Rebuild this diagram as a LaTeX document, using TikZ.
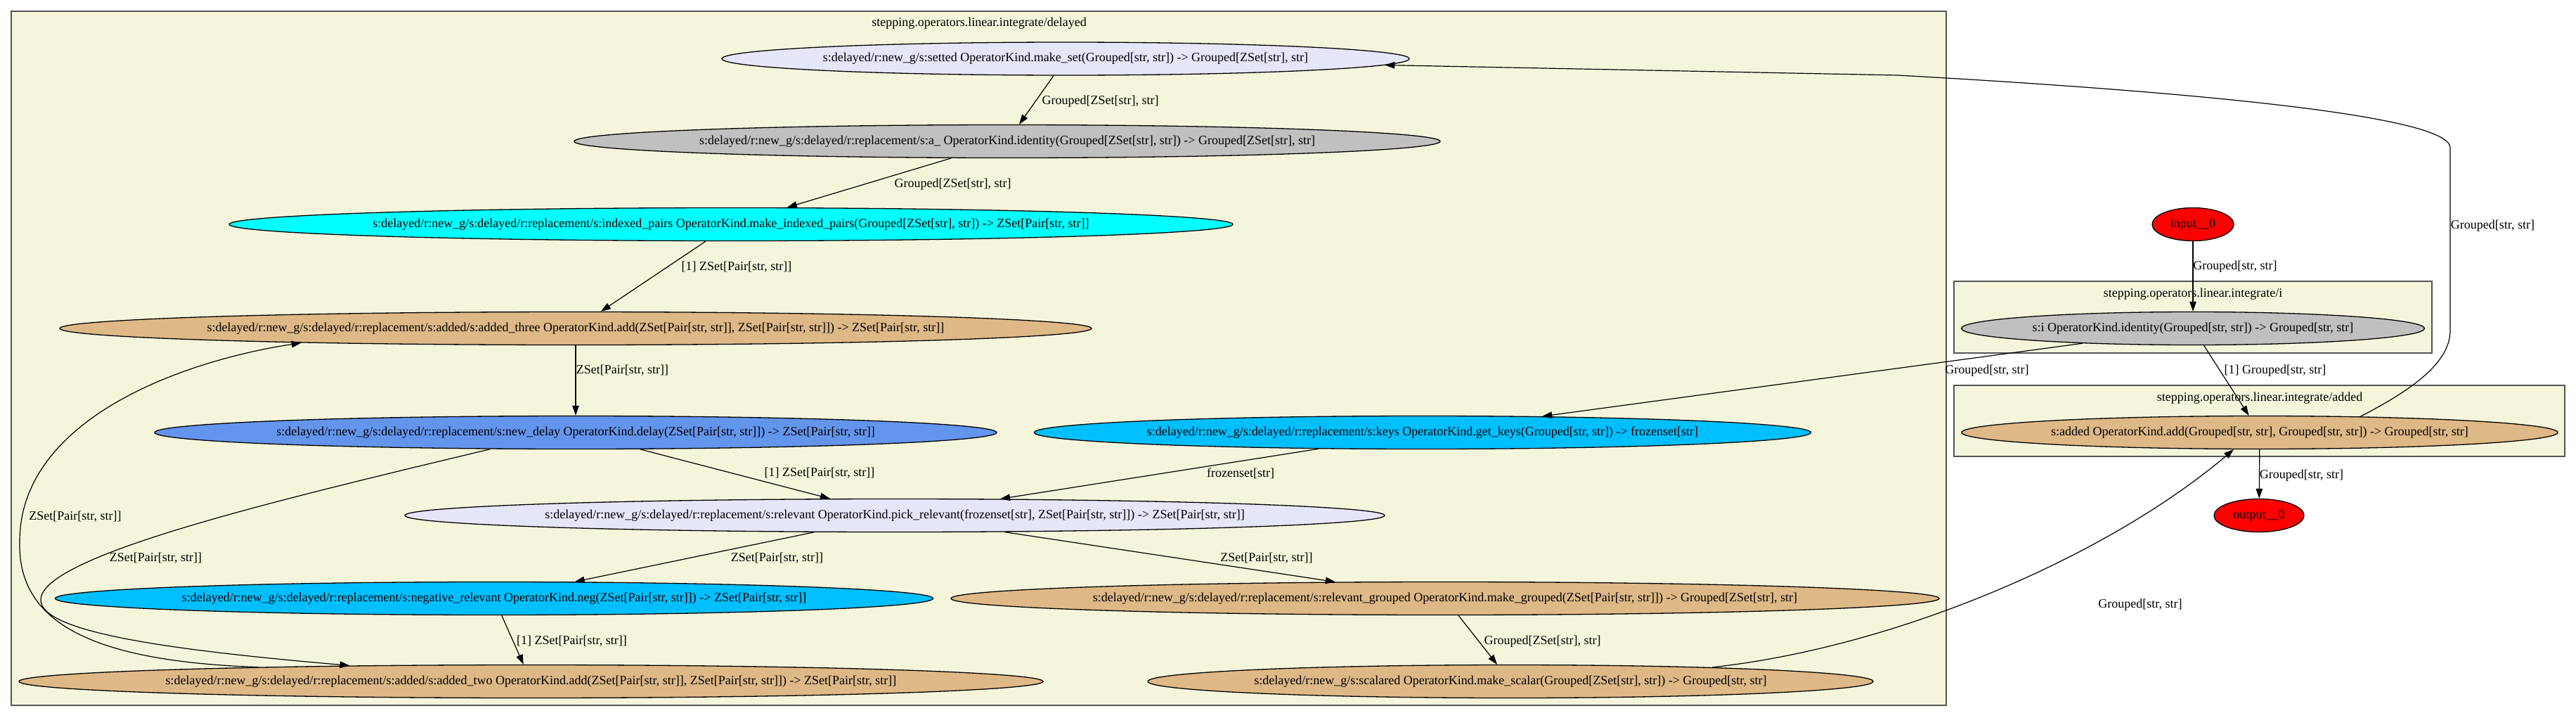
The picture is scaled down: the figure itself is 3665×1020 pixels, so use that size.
\documentclass[tikz,border=0pt]{standalone}
\usepackage{fontspec}
\setmainfont{Liberation Serif}
\usetikzlibrary{shapes.geometric,arrows.meta}
\definecolor{beigec}{HTML}{F5F5DC}
\definecolor{lav}{HTML}{E6E6FA}
\definecolor{grayc}{HTML}{C0C0C0}
\definecolor{burly}{HTML}{DEB887}
\definecolor{cfblue}{HTML}{6495ED}
\definecolor{dsblue}{HTML}{00BFFF}
\definecolor{cyanc}{HTML}{00FFFF}
\definecolor{redc}{HTML}{FF0000}
\definecolor{framec}{HTML}{555555}
\begin{document}
\begin{tikzpicture}[x=1pt,y=-1pt,
  every node/.style={font=\fontsize{18}{21}\selectfont},
  op/.style={ellipse, draw=black, line width=1.3pt, inner sep=0pt, minimum height=47pt},
  cl/.style={draw=framec, fill=beigec, line width=2pt},
  lbl/.style={inner sep=0pt},
  conn/.style={draw=black, line width=1.2pt, -{Triangle[length=14pt,width=9.5pt]}},
]
\fill[white] (0,0) rectangle (3665,1020);
\useasboundingbox (0,0) rectangle (3665,1020);

% clusters
\draw[cl] (16,16) rectangle (2769,1003);
\draw[cl] (2780,400) rectangle (3460,502);
\draw[cl] (2780,548) rectangle (3649,649);
\node[lbl] (t1) at (1393,33) {stepping.operators.linear.integrate/delayed};
\node[lbl] (t2) at (3120,418) {stepping.operators.linear.integrate/i};
\node[lbl] (t3) at (3215,566) {stepping.operators.linear.integrate/added};

% nodes
\node[op, fill=lav, minimum width=978pt] (setted) at (1516,83.5) {\makebox[0pt]{s:delayed/r:new\_g/s:setted OperatorKind.make\_set(Grouped[str, str]) -> Grouped[ZSet[str], str]}};
\node[op, fill=grayc, minimum width=1232pt] (identa) at (1433,201) {\makebox[0pt]{s:delayed/r:new\_g/s:delayed/r:replacement/s:a\_ OperatorKind.identity(Grouped[ZSet[str], str]) -> Grouped[ZSet[str], str]}};
\node[op, fill=cyanc, minimum width=1428pt] (indexed) at (1040,319) {\makebox[0pt]{s:delayed/r:new\_g/s:delayed/r:replacement/s:indexed\_pairs OperatorKind.make\_indexed\_pairs(Grouped[ZSet[str], str]) -> ZSet[Pair[str, str]]}};
\node[op, fill=burly, minimum width=1468pt] (added3) at (819,467) {\makebox[0pt]{s:delayed/r:new\_g/s:delayed/r:replacement/s:added/s:added\_three OperatorKind.add(ZSet[Pair[str, str]], ZSet[Pair[str, str]]) -> ZSet[Pair[str, str]]}};
\node[op, fill=cfblue, minimum width=1198pt] (newdelay) at (819,615) {\makebox[0pt]{s:delayed/r:new\_g/s:delayed/r:replacement/s:new\_delay OperatorKind.delay(ZSet[Pair[str, str]]) -> ZSet[Pair[str, str]]}};
\node[op, fill=dsblue, minimum width=1105pt] (keys) at (2024,615) {\makebox[0pt]{s:delayed/r:new\_g/s:delayed/r:replacement/s:keys OperatorKind.get\_keys(Grouped[str, str]) -> frozenset[str]}};
\node[op, fill=lav, minimum width=1394pt] (relevant) at (1273,733) {\makebox[0pt]{s:delayed/r:new\_g/s:delayed/r:replacement/s:relevant OperatorKind.pick\_relevant(frozenset[str], ZSet[Pair[str, str]]) -> ZSet[Pair[str, str]]}};
\node[op, fill=dsblue, minimum width=1249pt] (negrel) at (703,851) {\makebox[0pt]{s:delayed/r:new\_g/s:delayed/r:replacement/s:negative\_relevant OperatorKind.neg(ZSet[Pair[str, str]]) -> ZSet[Pair[str, str]]}};
\node[op, fill=burly, minimum width=1406pt] (relgrp) at (2056,851) {\makebox[0pt]{s:delayed/r:new\_g/s:delayed/r:replacement/s:relevant\_grouped OperatorKind.make\_grouped(ZSet[Pair[str, str]]) -> Grouped[ZSet[str], str]}};
\node[op, fill=burly, minimum width=1457pt] (added2) at (755.5,969) {\makebox[0pt]{s:delayed/r:new\_g/s:delayed/r:replacement/s:added/s:added\_two OperatorKind.add(ZSet[Pair[str, str]], ZSet[Pair[str, str]]) -> ZSet[Pair[str, str]]}};
\node[op, fill=burly, minimum width=1032pt] (scalared) at (2149,969) {\makebox[0pt]{s:delayed/r:new\_g/s:scalared OperatorKind.make\_scalar(Grouped[ZSet[str], str]) -> Grouped[str, str]}};
\node[op, fill=redc, minimum width=116pt] (input) at (3120,319) {\makebox[0pt]{input\_\_0}};
\node[op, fill=grayc, minimum width=659pt] (identi) at (3120,467) {\makebox[0pt]{s:i OperatorKind.identity(Grouped[str, str]) -> Grouped[str, str]}};
\node[op, fill=burly, minimum width=848pt] (added) at (3215,615) {\makebox[0pt]{s:added OperatorKind.add(Grouped[str, str], Grouped[str, str]) -> Grouped[str, str]}};
\node[op, fill=redc, minimum width=128pt] (output) at (3214,733) {\makebox[0pt]{output\_\_0}};

% straight edges
\draw[conn] (setted) -- (identa);
\draw[conn] (identa) -- (indexed);
\draw[conn] (indexed) -- (added3);
\draw[conn] (added3) -- (newdelay);
\draw[conn] (newdelay) -- (relevant);
\draw[conn] (keys) -- (relevant);
\draw[conn] (relevant) -- (negrel);
\draw[conn] (relevant) -- (relgrp);
\draw[conn] (negrel) -- (added2);
\draw[conn] (relgrp) -- (scalared);
\draw[conn] (input) -- (identi);
\draw[conn] (identi) -- (keys);
\draw[conn] (identi) -- (added);
\draw[conn] (added) -- (output);

% curved edges
\draw[conn] (newdelay.191.97) .. controls (400,710) and (58,790) .. (58,853) .. controls (58,900) and (250,925) .. (added2.175.71);
\draw[conn] (added2.177.67) .. controls (120,940) and (25,880) .. (28,770) .. controls (28,600) and (250,515) .. (added3.183.36);
\draw[conn] (scalared.4) .. controls (2700,920) and (3000,790) .. (added.213.8);
\draw[conn] (added.9.2) .. controls (3420,560) and (3486,520) .. (3486,470) -- (3486,210) .. controls (3486,170) and (3200,135) .. (2700,107) -- (setted);

% edge labels
\node[lbl] (l1) at (1565.5,144) {Grouped[ZSet[str], str]};
\node[lbl] (l2) at (1355.5,262) {Grouped[ZSet[str], str]};
\node[lbl] (l3) at (1048,380) {[1] ZSet[Pair[str, str]]};
\node[lbl] (l4) at (885.5,527) {ZSet[Pair[str, str]]};
\node[lbl] (l5) at (1166,673) {[1] ZSet[Pair[str, str]]};
\node[lbl] (l6) at (221.5,794) {ZSet[Pair[str, str]]};
\node[lbl] (l7) at (107,735) {ZSet[Pair[str, str]]};
\node[lbl] (l8) at (1765,673) {frozenset[str]};
\node[lbl] (l9) at (1105.5,794) {ZSet[Pair[str, str]]};
\node[lbl] (l10) at (1802,794) {ZSet[Pair[str, str]]};
\node[lbl] (l11) at (813.5,912) {[1] ZSet[Pair[str, str]]};
\node[lbl] (l12) at (2194.5,912) {Grouped[ZSet[str], str]};
\node[lbl] (l13) at (3045,860) {Grouped[str, str]};
\node[lbl] (l14) at (3546.5,321) {Grouped[str, str]};
\node[lbl] (l15) at (3180,379) {Grouped[str, str]};
\node[lbl] (l16) at (2827,527) {Grouped[str, str]};
\node[lbl] (l17) at (3237,527) {[1] Grouped[str, str]};
\node[lbl] (l18) at (3274.5,676) {Grouped[str, str]};
\end{tikzpicture}
\end{document}
